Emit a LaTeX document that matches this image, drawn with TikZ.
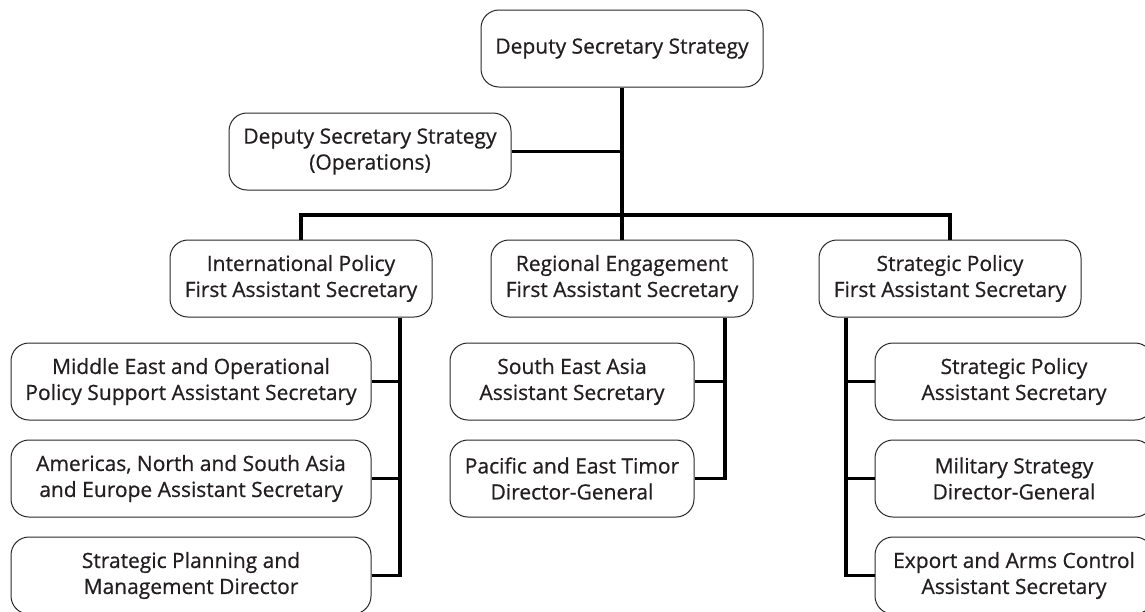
\documentclass[tikz,border=0pt]{standalone}
\usepackage{fontspec}
\newfontfamily\boxfont{Open Sans}[FakeBold=0.6]
\definecolor{txt}{RGB}{35,31,32}
\definecolor{bord}{RGB}{40,40,40}
\begin{document}
\begin{tikzpicture}[x=1pt,y=-1pt,
  box/.style={draw=bord, line width=1pt, rounded corners=18pt, align=center,
    minimum height=77pt, inner sep=0pt, text=txt,
    font=\boxfont\fontsize{21}{26}\selectfont},
  conn/.style={draw=black, line width=3.3pt}]
\path[use as bounding box, fill=white] (0,0) rectangle (1145,611);

\node[box, minimum width=282pt] (top) at (622,48.5) {Deputy Secretary Strategy};
\node[box, minimum width=282pt] (ops) at (370,151.5) {Deputy Secretary Strategy\\(Operations)};

\node[box, minimum width=262pt] (ip) at (301,278.5) {International Policy\\First Assistant Secretary};
\node[box, minimum width=262pt] (re) at (622,278.5) {Regional Engagement\\First Assistant Secretary};
\node[box, minimum width=262pt] (sp) at (950,278.5) {Strategic Policy\\First Assistant Secretary};

\node[box, minimum width=360pt] (l1) at (191,381.5) {Middle East and Operational\\Policy Support Assistant Secretary};
\node[box, minimum width=360pt] (l2) at (191,478.5) {Americas, North and South Asia\\and Europe Assistant Secretary};
\node[box, minimum width=360pt] (l3) at (191,575.5) {Strategic Planning and\\Management Director};

\node[box, minimum width=244pt] (m1) at (572,381.5) {South East Asia\\Assistant Secretary};
\node[box, minimum width=244pt] (m2) at (572,478.5) {Pacific and East Timor\\Director-General};

\node[box, minimum width=278pt] (r1) at (1014,381.5) {Strategic Policy\\Assistant Secretary};
\node[box, minimum width=278pt] (r2) at (1014,478.5) {Military Strategy\\Director-General};
\node[box, minimum width=278pt] (r3) at (1014,575.5) {Export and Arms Control\\Assistant Secretary};

\coordinate (bar) at (622,215);
\path (ip.south) ++(99,0) coordinate (lt);
\path (re.south) ++(103,0) coordinate (mt);
\path (sp.south) ++(-104,0) coordinate (rt);

\draw[conn] (top.south) -- (re.north);
\draw[conn] (ops.east) -- (ops.east -| top.south);
\draw[conn] (ip.north) |- (bar) -| (sp.north);

\draw[conn] (lt) |- (l3.east);
\draw[conn] (l1.east) -- (l1.east -| lt);
\draw[conn] (l2.east) -- (l2.east -| lt);

\draw[conn] (mt) |- (m2.east);
\draw[conn] (m1.east) -- (m1.east -| mt);

\draw[conn] (rt) |- (r3.west);
\draw[conn] (r1.west) -- (r1.west -| rt);
\draw[conn] (r2.west) -- (r2.west -| rt);
\end{tikzpicture}
\end{document}
